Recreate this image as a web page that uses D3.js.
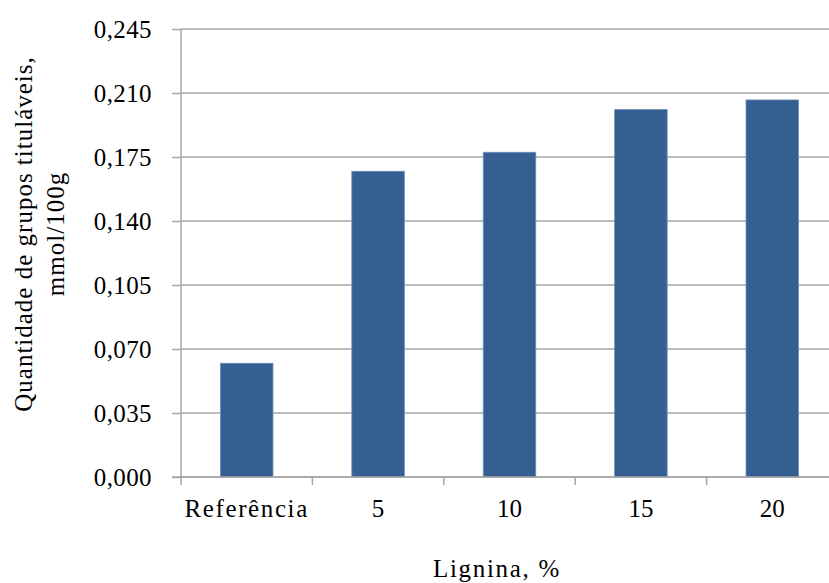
<!DOCTYPE html>
<html><head><meta charset="utf-8">
<script src="https://cdn.jsdelivr.net/npm/d3@7"></script>
<style>body{margin:0;background:#fff}svg{display:block}text{font-family:"Liberation Serif","Times New Roman",serif;fill:#000}</style>
</head><body><svg id="c" width="829" height="583"></svg>
<script>
const categories = ["Referência", "5", "10", "15", "20"];
const values = [0.0622, 0.1672, 0.1776, 0.2010, 0.2062];
const yTicks = [0, 0.035, 0.070, 0.105, 0.140, 0.175, 0.210, 0.245];
const xTitle = "Lignina, %";
const yTitle = ["Quantidade de grupos tituláveis,", "mmol/100g"];

(function () {
const svg = d3.select("#c");
const pL = 181, pR = 838, pT = 29, pB = 477;
const fs = 25;

const x = d3.scaleBand().domain(categories).range([pL, pR]).paddingInner(0.6).paddingOuter(0.3);
const y = d3.scaleLinear().domain([0, 0.245]).range([pB, pT]);

// gridlines
svg.append("g").selectAll("line").data(yTicks).join("line")
  .attr("x1", pL).attr("x2", 829)
  .attr("y1", d => y(d)).attr("y2", d => y(d))
  .attr("stroke", "#a6a6a6").attr("stroke-width", 1.5);

// y axis
const yAxis = svg.append("g").attr("transform", `translate(${pL},0)`)
  .call(d3.axisLeft(y).tickValues(yTicks).tickSize(9).tickPadding(20)
    .tickFormat(d => d3.format(".3f")(d).replace(".", ",")));
yAxis.select(".domain").attr("stroke", "#a6a6a6").attr("stroke-width", 1.5).attr("d", `M0,${pT}V${pB}`);
yAxis.selectAll(".tick line").attr("stroke", "#a6a6a6").attr("stroke-width", 1.5);
yAxis.selectAll(".tick text").attr("font-size", fs).attr("font-family", "Liberation Serif").attr("fill", "#000")
  .attr("letter-spacing", 0.4);

// bars
svg.append("g").selectAll("rect").data(values).join("rect")
  .attr("x", (d, i) => x(categories[i]))
  .attr("width", x.bandwidth())
  .attr("y", d => y(d))
  .attr("height", d => y(0) - y(d))
  .attr("fill", "#365f91")
  .attr("stroke", "#7090bb").attr("stroke-width", 0.8);

// x axis line (baseline)
svg.append("line").attr("x1", pL - 9).attr("x2", 829).attr("y1", y(0)).attr("y2", y(0))
  .attr("stroke", "#a6a6a6").attr("stroke-width", 1.5);

// category boundary ticks
const step = x.step();
const bounds = categories.map(c => x(c) - step * 0.3).concat([x(categories[categories.length - 1]) + x.bandwidth() + step * 0.3]);
svg.append("g").selectAll("line").data(bounds).join("line")
  .attr("x1", d => d).attr("x2", d => d)
  .attr("y1", y(0)).attr("y2", y(0) + 8)
  .attr("stroke", "#a6a6a6").attr("stroke-width", 1.5);

// category labels
const xAxis = svg.append("g").attr("transform", `translate(0,${pB})`)
  .call(d3.axisBottom(x).tickSize(0).tickPadding(0));
xAxis.select(".domain").remove();
xAxis.selectAll(".tick text").attr("font-size", fs).attr("font-family", "Liberation Serif").attr("fill", "#000")
  .attr("dy", null).attr("y", 40).attr("letter-spacing", d => isNaN(+d) ? 1.6 : 0);

// axis titles
svg.append("text").attr("x", 497).attr("y", 577).attr("text-anchor", "middle").attr("font-size", fs)
  .attr("letter-spacing", 1.7).text(xTitle);
const yt = svg.append("text").attr("transform", "translate(0,234) rotate(-90)").attr("text-anchor", "middle")
  .attr("font-size", fs).attr("letter-spacing", 1);
yt.selectAll("tspan").data(yTitle).join("tspan").attr("x", 0).attr("y", (d, i) => 32 + i * 32).text(d => d);
})();
</script></body></html>
